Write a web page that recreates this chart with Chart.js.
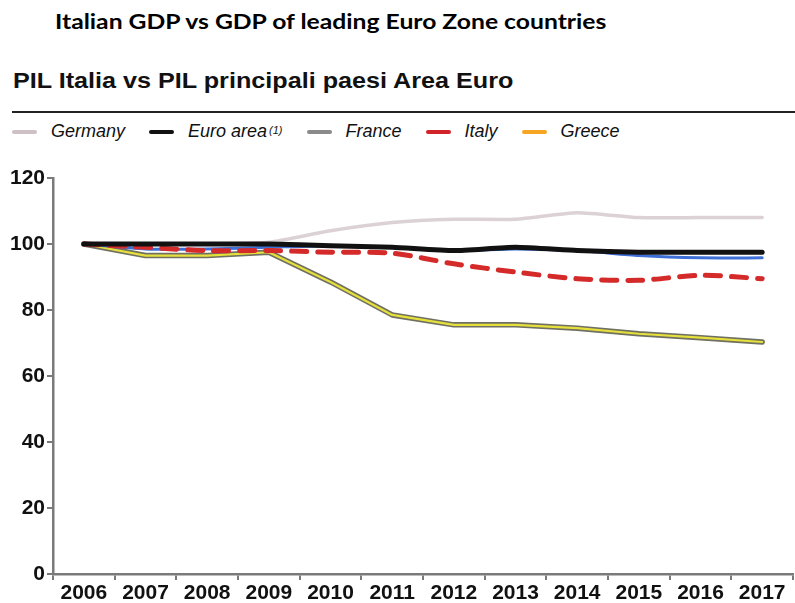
<!DOCTYPE html>
<html>
<head>
<meta charset="utf-8">
<script src="https://cdn.jsdelivr.net/npm/chart.js@4.4.1/dist/chart.umd.min.js"></script>
<style>
  html, body { margin: 0; padding: 0; background: #fff; }
  body { width: 795px; height: 603px; position: relative; overflow: hidden; }
  #title { position: absolute; left: 55px; top: 9px; font: bold 20px Lato, "Open Sans", sans-serif; color: #000; white-space: nowrap; transform-origin: 0 0; }
  #subtitle { position: absolute; left: 13px; top: 68px; font: bold 22px "Liberation Sans", Arial, sans-serif; color: #111; white-space: nowrap; transform-origin: 0 0; }
  #rule { position: absolute; left: 12px; right: 0; top: 111px; height: 2px; background: #222; }
  #legend { position: absolute; left: 12px; top: 121px; display: flex; align-items: center; font: italic 18px "Liberation Sans", Arial, sans-serif; color: #111; white-space: nowrap; }
  #legend .item { display: flex; align-items: center; margin-right: 24px; }
  #legend .swatch { width: 25px; height: 4px; margin-right: 14px; border-radius: 2px; }
  #legend sup { font-size: 11px; margin-left: 2px; position: relative; top: -2px; }
  #wrap { position: absolute; left: 0; top: 150px; width: 795px; height: 453px; }
</style>
</head>
<body>
<div id="title">Italian GDP vs GDP of leading Euro Zone countries</div>
<div id="subtitle">PIL Italia vs PIL principali paesi Area Euro</div>
<div id="rule"></div>
<div id="legend"></div>
<div id="wrap"><canvas id="chart"></canvas></div>
<script>
// GDP index, 2006 = 100
const years = ['2006', '2007', '2008', '2009', '2010', '2011', '2012', '2013', '2014', '2015', '2016', '2017']
const germany = [100, 100, 100, 100.5, 104, 106.5, 107.5, 107.5, 109.5, 108, 108, 108]
const euroArea = [100, 100, 100, 100, 99.5, 99, 98, 99, 98, 97.5, 97.5, 97.5]
const france = [100, 98.5, 98.5, 99, 99.5, 99, 98, 98.5, 98, 96.5, 95.8, 95.8]
const italy = [100, 99, 98, 98, 97.5, 97.2, 94, 91.5, 89.5, 89, 90.5, 89.5]
const greece = [100, 96.5, 96.5, 97.5, 88.5, 78.5, 75.5, 75.5, 74.5, 72.8, 71.6, 70.3]
const yTicks = [0, 20, 40, 60, 80, 100, 120]

const legendItems = [
  { name: 'Germany', color: '#cdc1c5' },
  { name: 'Euro area', note: '(1)', color: '#111' },
  { name: 'France', color: '#8a8a8a' },
  { name: 'Italy', color: '#d2232a' },
  { name: 'Greece', color: '#f6a623' }
]

// stretch the headings to their printed widths
function fitWidth (id, width) {
  const el = document.getElementById(id)
  el.style.transform = `scaleX(${width / el.scrollWidth})`
}
fitWidth('title', 552)
fitWidth('subtitle', 500)

const legend = document.getElementById('legend')
legendItems.forEach(item => {
  const div = document.createElement('div')
  div.className = 'item'
  div.innerHTML = `<span class="swatch" style="background:${item.color}"></span>${item.name}` +
    (item.note ? `<sup>${item.note}</sup>` : '')
  legend.appendChild(div)
})

const axisColor = '#7a7a7a'

const config = {
  type: 'line',
  data: {
    labels: years,
    datasets: [
      { label: 'Euro area', data: euroArea, borderColor: '#111', borderWidth: 5, tension: 0.2, order: 0 },
      { label: 'Italy', data: italy, borderColor: '#d42a2a', borderWidth: 5, borderDash: [15, 11], borderCapStyle: 'round', tension: 0.3, order: 1 },
      { label: 'France', data: france, borderColor: '#3d6fd6', borderWidth: 3, tension: 0.2, order: 2 },
      { label: 'Greece', data: greece, borderColor: '#e6e03c', borderWidth: 2.2, tension: 0, order: 3 },
      { label: 'Greece edge', data: greece, borderColor: '#707062', borderWidth: 5.5, tension: 0, order: 4 },
      { label: 'Germany', data: germany, borderColor: '#dcd2d5', borderWidth: 3.5, tension: 0.2, order: 5 }
    ]
  },
  options: {
    responsive: true,
    maintainAspectRatio: false,
    animation: false,
    elements: { point: { radius: 0 }, line: { borderJoinStyle: 'round', borderCapStyle: 'round' } },
    layout: { padding: { top: 28, right: 2, left: 0, bottom: 0 } },
    plugins: { legend: { display: false }, tooltip: { enabled: false } },
    scales: {
      x: {
        offset: true,
        grid: { display: true, drawOnChartArea: false, drawTicks: true, tickLength: 6, color: axisColor, lineWidth: 2, offset: true },
        border: { display: true, color: axisColor, width: 2.5 },
        ticks: { color: '#111', font: { family: 'Liberation Sans', weight: 'bold', size: 21 }, padding: 1, maxRotation: 0, autoSkip: false },
        afterFit: scale => { scale.height = 29 }
      },
      y: {
        min: 0,
        max: 120,
        afterBuildTicks: scale => { scale.ticks = yTicks.map(v => ({ value: v })) },
        grid: { display: true, drawOnChartArea: false, drawTicks: true, tickLength: 6, color: axisColor, lineWidth: 2 },
        border: { display: true, color: axisColor, width: 2.5 },
        ticks: { color: '#111', font: { family: 'Liberation Sans', weight: 'bold', size: 21 }, padding: 2 },
        afterFit: scale => { scale.width = 53 }
      }
    }
  }
}

const chart = new Chart(document.getElementById('chart'), config)
</script>
</body>
</html>
